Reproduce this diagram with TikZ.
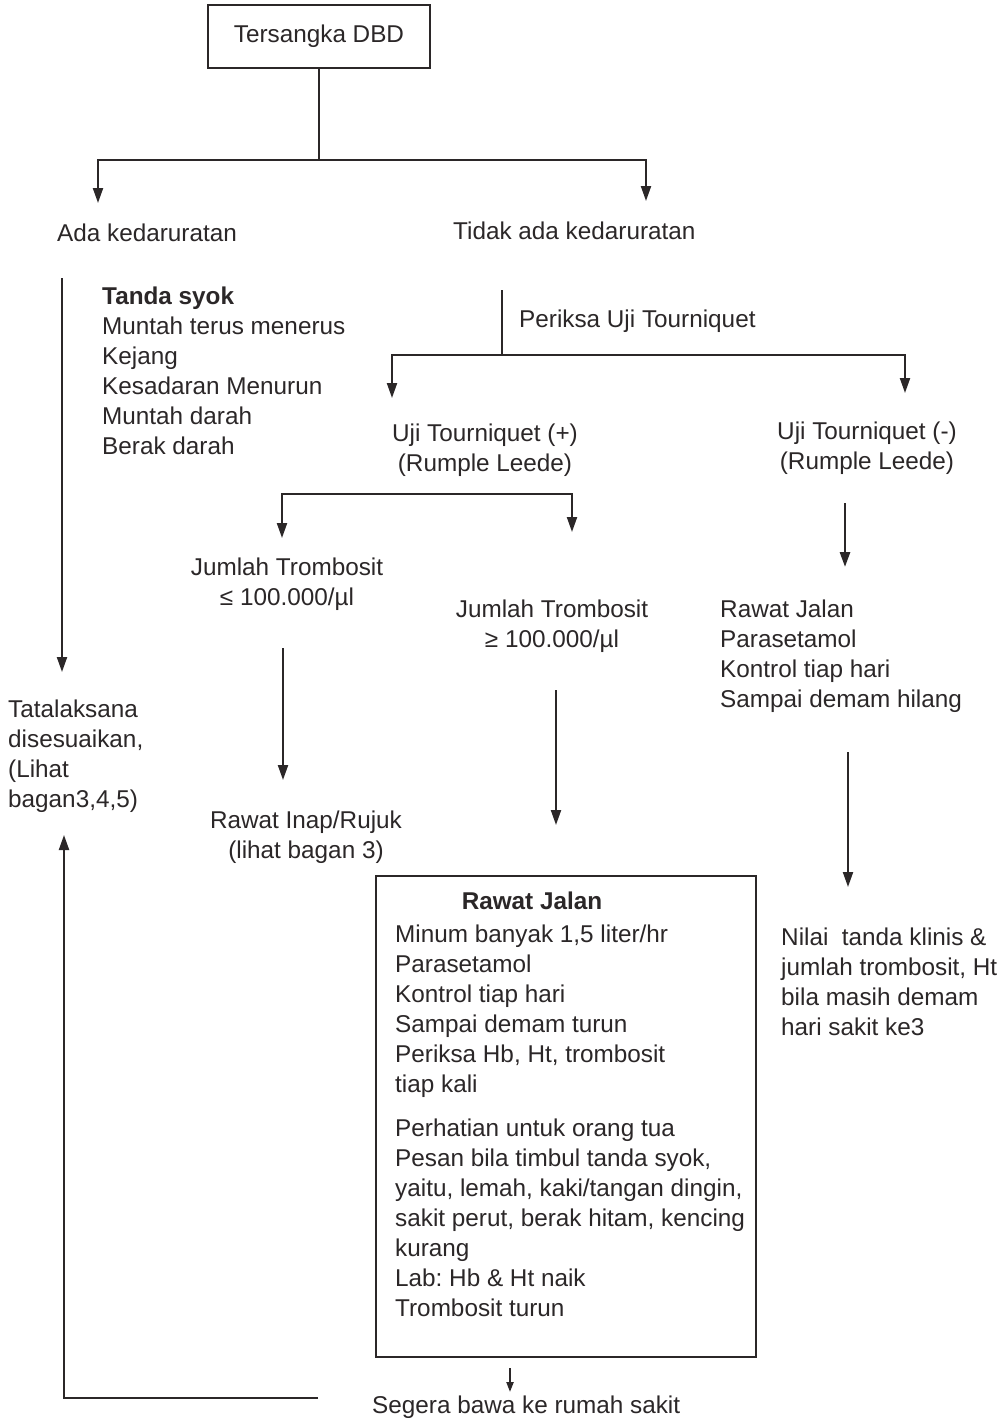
\documentclass[tikz,border=0pt]{standalone}
\usepackage{fontspec}
\setmainfont{Liberation Sans}
\usetikzlibrary{arrows.meta}
\definecolor{ink}{HTML}{2B2728}
\frenchspacing
\begin{document}
\begin{tikzpicture}[x=1pt,y=-1pt,
  every node/.style={inner sep=0pt, text=ink, font=\fontsize{24.3}{30}\selectfont},
  lbl/.style={anchor=north west, align=left},
  clbl/.style={anchor=north, align=center},
  frame/.style={draw=ink, line width=2.4pt},
  wire/.style={draw=ink, line width=2.1pt},
  arr/.style={wire, -{Triangle[length=15pt,width=10pt]}},
  arrs/.style={wire, -{Triangle[length=10pt,width=7pt]}},
]
\useasboundingbox (0,0) rectangle (1007,1418);
\fill[white] (0,0) rectangle (1007,1418);

% start box
\node[frame, minimum width=222pt, minimum height=63pt] (top) at (319,36.5) {Tersangka DBD};

% first split
\coordinate (j0) at (319,160);
\coordinate (adaTip) at (98,203);
\coordinate (tdkTip) at (646,201);
\draw[wire] (top.south) -- (j0);
\draw[arr] (j0) -| (adaTip);
\draw[arr] (j0) -| (tdkTip);

\node[lbl] (ada) at (57,220) {\strut Ada kedaruratan};
\node[lbl] (tdk) at (453,218) {\strut Tidak ada kedaruratan};

% emergency branch
\node[lbl] (syok) at (102,283) {\strut\textbf{Tanda syok}\\Muntah terus menerus\\Kejang\\Kesadaran Menurun\\Muntah darah\\Berak darah};
\node[lbl] (tata) at (8,696) {\strut Tatalaksana\\disesuaikan,\\(Lihat\\bagan3,4,5)};
\coordinate (l0) at (62,278);
\coordinate (tataIn) at (62,672);
\draw[arr] (l0) -- (tataIn);

% tourniquet test
\coordinate (p0) at (502,290);
\coordinate (p1) at (502,355);
\coordinate (plusTip) at (392,398);
\coordinate (minTip) at (905,393);
\node[lbl] (periksa) at (519,306) {\strut Periksa Uji Tourniquet};
\draw[wire] (p0) -- (p1);
\draw[arr] (p1) -| (plusTip);
\draw[arr] (p1) -| (minTip);

\node[clbl] (plus) at (485,420) {\strut Uji Tourniquet (+)\\(Rumple Leede)};
\node[clbl] (minus) at (867,418) {\strut Uji Tourniquet (-)\\(Rumple Leede)};

% platelet split
\coordinate (b2l) at (282,494);
\coordinate (b2r) at (572,494);
\coordinate (lowTip) at (282,538);
\coordinate (highTip) at (572,532);
\draw[arr] (b2r) -- (b2l) -- (lowTip);
\draw[arr] (b2l) -- (b2r) -- (highTip);

\node[clbl] (low) at (287,554) {\strut Jumlah Trombosit\\≤ 100.000/µl};
\node[clbl] (high) at (552,596) {\strut Jumlah Trombosit\\≥ 100.000/µl};

\coordinate (lowOut) at (283,648);
\coordinate (inapIn) at (283,780);
\draw[arr] (lowOut) -- (inapIn);
\node[clbl] (inap) at (306,807) {\strut Rawat Inap/Rujuk\\(lihat bagan 3)};

\coordinate (highOut) at (556,690);
\coordinate (rjIn) at (556,825);
\draw[arr] (highOut) -- (rjIn);

% outpatient box
\node[frame, minimum width=380pt, minimum height=481pt] (rj) at (566,1116.5) {};
\node[clbl] (rjT) at (532,888) {\strut\textbf{Rawat Jalan}};
\node[lbl] (rjA) at (395,921) {\strut Minum banyak 1,5 liter/hr\\Parasetamol\\Kontrol tiap hari\\Sampai demam turun\\Periksa Hb, Ht, trombosit\\tiap kali};
\node[lbl] (rjB) at (395,1115) {\strut Perhatian untuk orang tua\\Pesan bila timbul tanda syok,\\yaitu, lemah, kaki/tangan dingin,\\sakit perut, berak hitam, kencing\\kurang\\Lab: Hb \& Ht naik\\Trombosit turun};

% negative test branch
\coordinate (m0) at (845,503);
\coordinate (m1) at (845,567);
\draw[arr, line width=2.8pt] (m0) -- (m1);
\node[lbl] (rjNeg) at (720,596) {\strut Rawat Jalan\\Parasetamol\\Kontrol tiap hari\\Sampai demam hilang};
\coordinate (m2) at (848,752);
\coordinate (m3) at (848,887);
\draw[arr] (m2) -- (m3);
\node[lbl] (nilai) at (781,924) {\strut Nilai\ \ tanda klinis \&\\jumlah trombosit, Ht\\bila masih demam\\hari sakit ke3};

% referral and return path
\coordinate (segIn) at (510,1392);
\draw[arrs] (rj.south -| segIn) ++(0,10) -- (segIn);
\node[lbl] (segera) at (372,1392) {\strut Segera bawa ke rumah sakit};
\coordinate (r0) at (318,1398);
\coordinate (r1) at (64,1398);
\coordinate (tataRet) at (64,835);
\draw[arr] (r0) -- (r1) -- (tataRet);
\end{tikzpicture}
\end{document}
